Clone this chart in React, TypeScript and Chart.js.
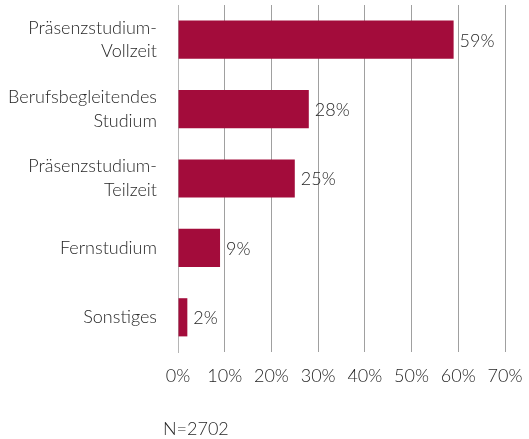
import React, { useEffect, useRef } from "react";
import { Chart, registerables } from "chart.js";

Chart.register(...registerables);

const categories: (string | string[])[] = [
  ["Präsenzstudium-", "Vollzeit"],
  ["Berufsbegleitendes", "Studium"],
  ["Präsenzstudium-", "Teilzeit"],
  "Fernstudium",
  "Sonstiges",
];
const values: number[] = [59, 28, 25, 9, 2];
const xTicks: number[] = [0, 10, 20, 30, 40, 50, 60, 70];
const footnote = "N=2702";

const FONT = "Lato, 'Open Sans', sans-serif";
const WEIGHT = 300;
const TEXT = "#262626";
const BAR = "#a30c3b";

export default function App() {
  const ref = useRef<HTMLCanvasElement | null>(null);
  useEffect(() => {
    if (!ref.current) return;
    const labelPlugin = {
      id: "valueLabels",
      afterDatasetsDraw(chart: any) {
        const ctx = chart.ctx;
        const meta = chart.getDatasetMeta(0);
        ctx.save();
        ctx.font = `${WEIGHT} 18px ${FONT}`;
        ctx.fillStyle = TEXT;
        ctx.textBaseline = "middle";
        ctx.textAlign = "left";
        meta.data.forEach((el: any, i: number) => {
          ctx.fillText(values[i] + "%", el.x + 6, el.y + 1);
        });
        const xs = chart.scales.x;
        ctx.fillText(footnote, xs.getPixelForValue(0) - 15, chart.height - 10);
        ctx.restore();
      },
    };
    const chart = new Chart(ref.current, {
      type: "bar",
      data: {
        labels: categories,
        datasets: [
          {
            data: values,
            backgroundColor: BAR,
            borderWidth: 0,
            categoryPercentage: 1,
            barPercentage: 0.55,
          },
        ],
      },
      options: {
        indexAxis: "y",
        animation: false,
        responsive: false,
        maintainAspectRatio: false,
        layout: { padding: { top: 5, right: 24, bottom: 0, left: 0 } },
        plugins: {
          legend: { display: false },
          tooltip: { enabled: false },
        },
        scales: {
          x: {
            min: 0,
            max: 70,
            afterBuildTicks: (s: any) => {
              s.ticks = xTicks.map((v) => ({ value: v }));
            },
            afterFit: (s: any) => {
              s.height = 87;
              s.paddingLeft = 0;
              s.paddingRight = 0;
            },
            grid: { color: "#a0a0a0", lineWidth: 1, drawTicks: false },
            border: { display: false },
            ticks: {
              padding: 13,
              color: TEXT,
              font: { family: FONT, size: 18, weight: WEIGHT },
              callback: (v: any) => v + "%",
            },
          },
          y: {
            afterFit: (s: any) => {
              s.width = 178;
              s.paddingTop = 0;
              s.paddingBottom = 0;
            },
            grid: { display: false },
            border: { display: true, color: "#b5b5b5", width: 1 },
            ticks: {
              padding: 13,
              color: TEXT,
              font: { family: FONT, size: 18, weight: WEIGHT, lineHeight: 1.33 },
            },
          },
        },
      },
      plugins: [labelPlugin],
    });
    return () => chart.destroy();
  }, []);
  return (
    <div style={{ position: "absolute", left: 0, top: 0, width: 529, height: 439 }}>
      <canvas ref={ref} width={529} height={439} />
    </div>
  );
}
